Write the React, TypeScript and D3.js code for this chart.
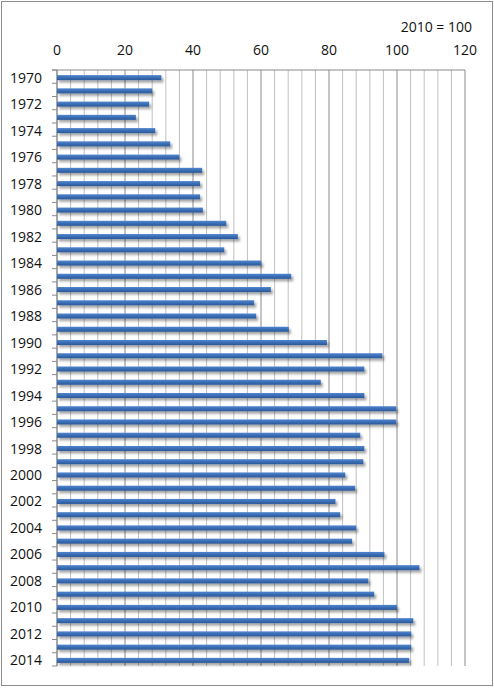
import React from 'react';
import * as d3 from 'd3';

// index, 2010 = 100
const years = [
  1970, 1971, 1972, 1973, 1974, 1975, 1976, 1977, 1978, 1979,
  1980, 1981, 1982, 1983, 1984, 1985, 1986, 1987, 1988, 1989,
  1990, 1991, 1992, 1993, 1994, 1995, 1996, 1997, 1998, 1999,
  2000, 2001, 2002, 2003, 2004, 2005, 2006, 2007, 2008, 2009,
  2010, 2011, 2012, 2013, 2014,
];
const values = [
  30.7, 28.0, 27.1, 23.2, 28.9, 33.3, 36.0, 42.7, 42.1, 42.1,
  42.9, 49.8, 53.2, 49.2, 60.1, 68.9, 62.9, 58.0, 58.6, 68.2,
  79.4, 95.7, 90.4, 77.6, 90.4, 99.8, 99.8, 89.2, 90.4, 90.1,
  84.8, 87.7, 81.9, 83.3, 88.0, 86.8, 96.3, 106.6, 91.6, 93.3,
  100.0, 104.8, 104.2, 104.2, 103.6,
];
const xTicks = [0, 20, 40, 60, 80, 100, 120];
const minorTicks = d3.range(0, 121, 4);
const baseLabel = '2010 = 100';

const W = 494;
const H = 688;
const left = 57;
const right = 465;
const top = 70;
const bottom = 666;

const App: React.FC = () => {
  const x = d3.scaleLinear().domain([0, 120]).range([left, right]);
  const y = d3.scaleBand<number>()
    .domain(years)
    .range([top, bottom])
    .paddingInner(0.62)
    .paddingOuter(0.31);
  const step = y.step();
  const font = "'Open Sans', 'DejaVu Sans', sans-serif";

  return (
    <div style={{ position: 'absolute', left: 0, top: 0 }}>
      <svg width={W} height={H} style={{ display: 'block', background: '#fff' }}>
        <defs>
          <linearGradient id="barGrad" x1="0" y1="0" x2="0" y2="1">
            <stop offset="0%" stopColor="#5186cf" />
            <stop offset="45%" stopColor="#3c70b8" />
            <stop offset="100%" stopColor="#2b5897" />
          </linearGradient>
          <filter id="shadow" x="-5%" y="-50%" width="110%" height="250%">
            <feDropShadow dx="2" dy="2.5" stdDeviation="1.3" floodColor="#000" floodOpacity="0.35" />
          </filter>
        </defs>

        <rect x={1.5} y={1.5} width={491} height={684} fill="#fff" stroke="#8c8c8c" strokeWidth={1} />

        {/* grid */}
        {minorTicks.map(t => (
          <line
            key={'g' + t}
            x1={x(t)} x2={x(t)} y1={top} y2={bottom}
            stroke={t % 20 === 0 ? '#8a8a8a' : '#c0c0c0'}
            strokeWidth={1}
          />
        ))}

        {/* axes */}
        <line x1={left - 5} x2={right} y1={top} y2={top} stroke="#8a8a8a" />
        <line x1={left} x2={left} y1={top} y2={bottom} stroke="#8a8a8a" />
        {d3.range(years.length + 1).map(i => (
          <line
            key={'t' + i}
            x1={left - 5} x2={left}
            y1={top + i * step} y2={top + i * step}
            stroke="#8a8a8a"
          />
        ))}

        {/* bars */}
        <g filter="url(#shadow)">
          {years.map((yr, i) => (
            <rect
              key={yr}
              x={x(0)}
              y={(y(yr) ?? 0) + 1}
              width={x(values[i]) - x(0)}
              height={y.bandwidth()}
              fill="url(#barGrad)"
            />
          ))}
        </g>

        {/* x tick labels */}
        {xTicks.map(t => (
          <text
            key={'xl' + t}
            x={x(t)}
            y={55}
            textAnchor="middle"
            fontFamily={font}
            fontSize={14}
            fill="#111"
          >
            {t}
          </text>
        ))}

        {/* year labels */}
        {years.filter((_, i) => i % 2 === 0).map(yr => (
          <text
            key={'yl' + yr}
            x={42}
            y={(y(yr) ?? 0) + y.bandwidth() / 2 + 1}
            dy="0.36em"
            textAnchor="end"
            fontFamily={font}
            fontSize={14}
            fill="#111"
          >
            {yr}
          </text>
        ))}

        <text x={472} y={32} textAnchor="end" fontFamily={font} fontSize={14} fill="#111">
          {baseLabel}
        </text>
      </svg>
    </div>
  );
};

export default App;
